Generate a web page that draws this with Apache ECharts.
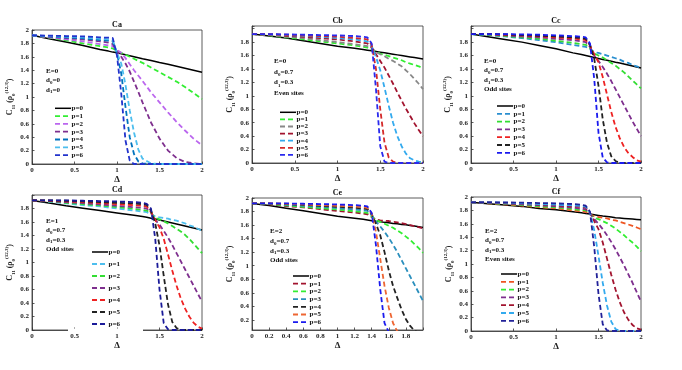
<!DOCTYPE html>
<html><head><meta charset="utf-8">
<script src="https://cdn.jsdelivr.net/npm/echarts@6/dist/echarts.min.js"></script>
<style>html,body{margin:0;padding:0;background:#fff}#c{width:682px;height:370px}</style>
</head><body><div id="c"></div><script>
// x grids (Δ)
const G1 = [0,0.2,0.4,0.6,0.8,0.9,0.95,1.0,1.05,1.1,1.15,1.2,1.25,1.3,1.4,1.5,1.6,1.7,1.8,1.9,2.0];
const G2 = [0,0.2,0.4,0.6,0.8,1.0,1.2,1.3,1.35,1.4,1.45,1.5,1.55,1.6,1.65,1.7,1.75,1.8,1.85,1.9,1.95,2.0];
const pNames = ['p=0','p=1','p=2','p=3','p=4','p=5','p=6'];

// Panel Ca (G1)
const caY = [
 [1.92,1.87,1.82,1.77,1.71,1.685,1.67,1.66,1.645,1.63,1.615,1.60,1.585,1.57,1.545,1.515,1.49,1.46,1.43,1.40,1.37],
 [1.92,1.885,1.845,1.80,1.76,1.74,1.725,1.69,1.66,1.63,1.60,1.57,1.54,1.51,1.44,1.37,1.30,1.23,1.15,1.06,0.97],
 [1.92,1.89,1.86,1.83,1.79,1.77,1.76,1.70,1.66,1.58,1.49,1.40,1.32,1.24,1.07,0.92,0.77,0.63,0.50,0.38,0.28],
 [1.92,1.90,1.88,1.86,1.83,1.81,1.79,1.68,1.60,1.50,1.38,1.23,1.08,0.92,0.62,0.38,0.20,0.09,0.03,0.01,0],
 [1.92,1.905,1.89,1.875,1.85,1.84,1.83,1.65,1.35,0.85,0.40,0.15,0.04,0.01,0,0,0,0,0,0,0],
 [1.92,1.91,1.90,1.89,1.87,1.86,1.85,1.66,1.50,1.18,0.80,0.47,0.22,0.08,0.01,0,0,0,0,0,0],
 [1.92,1.915,1.91,1.905,1.89,1.885,1.88,1.62,1.05,0.35,0.05,0,0,0,0,0,0,0,0,0,0]
];
// Panel Cb (G2)
const cbY = [
 [1.92,1.89,1.86,1.82,1.78,1.74,1.71,1.69,1.68,1.67,1.66,1.65,1.64,1.63,1.62,1.61,1.60,1.59,1.58,1.57,1.56,1.55],
 [1.92,1.90,1.87,1.84,1.81,1.78,1.75,1.73,1.72,1.69,1.66,1.63,1.61,1.59,1.57,1.55,1.53,1.50,1.48,1.46,1.44,1.41],
 [1.92,1.905,1.88,1.86,1.83,1.80,1.77,1.75,1.74,1.71,1.65,1.62,1.59,1.55,1.52,1.48,1.44,1.38,1.32,1.25,1.18,1.10],
 [1.92,1.91,1.895,1.88,1.86,1.84,1.81,1.79,1.78,1.72,1.62,1.52,1.42,1.30,1.18,1.05,0.93,0.81,0.70,0.59,0.49,0.40],
 [1.92,1.915,1.905,1.895,1.88,1.86,1.84,1.82,1.81,1.74,1.58,1.38,1.12,0.85,0.60,0.40,0.25,0.14,0.07,0.04,0.02,0.01],
 [1.92,1.92,1.91,1.90,1.89,1.88,1.86,1.85,1.84,1.76,1.40,0.80,0.30,0.08,0.02,0,0,0,0,0,0,0],
 [1.92,1.92,1.915,1.91,1.905,1.90,1.89,1.88,1.87,1.78,1.10,0.25,0.02,0,0,0,0,0,0,0,0,0]
];
// Panel Cc (G2)
const ccY = [
 [1.92,1.88,1.84,1.80,1.75,1.70,1.64,1.615,1.60,1.585,1.57,1.555,1.54,1.53,1.515,1.50,1.49,1.475,1.46,1.445,1.43,1.415],
 [1.92,1.905,1.885,1.86,1.83,1.80,1.76,1.74,1.73,1.70,1.65,1.64,1.62,1.60,1.58,1.56,1.54,1.51,1.49,1.46,1.44,1.41],
 [1.92,1.91,1.89,1.87,1.85,1.82,1.79,1.77,1.76,1.71,1.63,1.60,1.57,1.53,1.49,1.45,1.40,1.35,1.29,1.23,1.17,1.11],
 [1.92,1.915,1.90,1.885,1.87,1.85,1.83,1.81,1.80,1.73,1.60,1.52,1.43,1.33,1.22,1.10,0.98,0.86,0.74,0.62,0.51,0.40],
 [1.92,1.92,1.91,1.90,1.885,1.87,1.855,1.84,1.83,1.75,1.62,1.50,1.28,1.02,0.76,0.54,0.37,0.24,0.15,0.09,0.04,0.02],
 [1.92,1.92,1.915,1.905,1.895,1.885,1.87,1.86,1.85,1.76,1.55,1.15,0.65,0.30,0.10,0.03,0,0,0,0,0,0],
 [1.92,1.92,1.92,1.915,1.91,1.90,1.89,1.88,1.87,1.78,1.25,0.45,0.08,0.01,0,0,0,0,0,0,0,0]
];
// Panel Cd (G2)
const cdY = [
 [1.92,1.88,1.84,1.805,1.77,1.735,1.70,1.68,1.67,1.655,1.645,1.63,1.615,1.60,1.585,1.57,1.555,1.54,1.525,1.51,1.495,1.48],
 [1.92,1.90,1.875,1.85,1.83,1.80,1.77,1.755,1.745,1.72,1.68,1.67,1.66,1.65,1.63,1.62,1.60,1.58,1.55,1.53,1.50,1.47],
 [1.92,1.905,1.885,1.865,1.845,1.82,1.795,1.78,1.77,1.73,1.66,1.64,1.61,1.58,1.54,1.50,1.46,1.41,1.35,1.28,1.21,1.14],
 [1.92,1.91,1.895,1.88,1.86,1.84,1.82,1.81,1.80,1.74,1.63,1.56,1.47,1.37,1.26,1.14,1.02,0.90,0.78,0.66,0.54,0.42],
 [1.92,1.915,1.905,1.895,1.88,1.865,1.85,1.84,1.83,1.75,1.63,1.52,1.35,1.12,0.88,0.66,0.47,0.32,0.20,0.11,0.05,0.02],
 [1.92,1.92,1.915,1.905,1.895,1.885,1.875,1.865,1.855,1.77,1.58,1.25,0.80,0.38,0.12,0.03,0,0,0,0,0,0],
 [1.92,1.92,1.92,1.915,1.91,1.905,1.895,1.885,1.87,1.80,1.35,0.60,0.10,0.01,0,0,0,0,0,0,0,0]
];
// Panel Ce (G2)
const ceY = [
 [1.92,1.89,1.85,1.81,1.77,1.73,1.70,1.685,1.675,1.665,1.655,1.65,1.64,1.635,1.625,1.62,1.61,1.605,1.595,1.585,1.575,1.565],
 [1.92,1.905,1.88,1.86,1.835,1.81,1.785,1.77,1.76,1.72,1.68,1.67,1.665,1.66,1.65,1.64,1.63,1.615,1.60,1.585,1.57,1.55],
 [1.92,1.91,1.89,1.87,1.85,1.83,1.805,1.79,1.78,1.73,1.67,1.65,1.62,1.59,1.56,1.52,1.48,1.43,1.38,1.32,1.26,1.19],
 [1.92,1.915,1.90,1.885,1.87,1.85,1.83,1.82,1.81,1.745,1.65,1.58,1.50,1.41,1.31,1.20,1.08,0.96,0.84,0.72,0.60,0.48],
 [1.92,1.92,1.91,1.90,1.885,1.87,1.855,1.845,1.835,1.76,1.62,1.45,1.20,0.93,0.70,0.52,0.35,0.21,0.11,0.04,0.01,0],
 [1.92,1.92,1.915,1.905,1.895,1.885,1.875,1.865,1.855,1.77,1.50,1.10,0.70,0.38,0.15,0.03,0,0,0,0,0,0],
 [1.92,1.92,1.92,1.915,1.91,1.905,1.895,1.885,1.875,1.78,1.30,0.65,0.15,0.02,0,0,0,0,0,0,0,0]
];
// Panel Cf (G2)
const cfY = [
 [1.92,1.90,1.88,1.86,1.83,1.81,1.78,1.765,1.755,1.745,1.735,1.725,1.715,1.71,1.70,1.69,1.685,1.68,1.675,1.67,1.665,1.66],
 [1.92,1.905,1.89,1.87,1.85,1.83,1.80,1.785,1.78,1.74,1.71,1.70,1.69,1.68,1.66,1.65,1.63,1.61,1.59,1.57,1.545,1.52],
 [1.92,1.91,1.895,1.88,1.86,1.845,1.82,1.805,1.80,1.745,1.69,1.67,1.64,1.61,1.57,1.53,1.48,1.43,1.37,1.32,1.26,1.19],
 [1.92,1.915,1.90,1.89,1.875,1.86,1.84,1.825,1.815,1.75,1.67,1.60,1.52,1.43,1.33,1.22,1.10,0.98,0.85,0.72,0.58,0.44],
 [1.92,1.92,1.91,1.90,1.89,1.875,1.86,1.85,1.84,1.76,1.64,1.52,1.32,1.08,0.84,0.62,0.43,0.28,0.17,0.09,0.04,0.02],
 [1.92,1.92,1.915,1.905,1.895,1.885,1.875,1.865,1.855,1.77,1.50,1.12,0.72,0.38,0.14,0.03,0,0,0,0,0,0],
 [1.92,1.92,1.92,1.915,1.91,1.905,1.895,1.885,1.87,1.78,1.25,0.55,0.10,0.01,0,0,0,0,0,0,0,0]
];

// colours per panel (styles)
const caColors = ['#000000','#33ee33','#bb66ee','#7e2f8e','#0072bd','#4dbeee','#2233cc'];
const cbColors = ['#000000','#33ee33','#888888','#a2142f','#33aaee','#d42a2a','#2a2aee'];
const ccColors = ['#000000','#2a8fd0','#33dd33','#7e2f8e','#ee2222','#222222','#1a1aee'];
const cdColors = ['#000000','#4dbeee','#33dd33','#7e2f8e','#ee2222','#222222','#1a1a99'];
const ceColors = ['#000000','#a2142f','#33ee33','#2a8fbd','#222222','#ee6633','#1a1aee'];
const cfColors = ['#000000','#ee5522','#33ee33','#7e2f8e','#a2142f','#33aaee','#222299'];

const FONT = "'Liberation Serif','Times New Roman',serif";
const DASH = [5,3];

const panels = [
 {id:'Ca', x:G1, ys:caY, colors:caColors, grid:{left:32,top:30,width:170,height:134}, ymin:0, ymax:2, yhide:false,
  ann:'E=0\nd{s|0}=0\nd{s|1}=0', annPos:[46,66,9.5], leg:[55,108.3,7.8], yGap:14},
 {id:'Cb', x:G2, ys:cbY, colors:cbColors, grid:{left:252,top:26,width:171,height:137}, ymin:0, ymax:2.04, yhide:true,
  ann:'E=0\nd{s|0}=0.7\nd{s|1}=0.3\nEven sites', annPos:[274,56,10.6], leg:[280,112.3,7.1], yGap:16},
 {id:'Cc', x:G2, ys:ccY, colors:ccColors, grid:{left:471,top:26,width:170,height:137}, ymin:0, ymax:2.04, yhide:true,
  ann:'E=0\nd{s|0}=0.7\nd{s|1}=0.3\nOdd sites', annPos:[484,56,9.6], leg:[497,106,7.8], yGap:17},
 {id:'Cd', x:G2, ys:cdY, colors:cdColors, grid:{left:32,top:195,width:170,height:135}, ymin:0, ymax:2, yhide:true,
  ann:'E=1\nd{s|0}=0.7\nd{s|1}=0.3\nOdd sites', annPos:[46,216,9.5], leg:[92,252,12], yGap:16},
 {id:'Ce', x:G2, ys:ceY, colors:ceColors, grid:{left:252,top:198,width:171,height:132}, ymin:0.05, ymax:2, yhide:false,
  ann:'E=2\nd{s|0}=0.7\nd{s|1}=0.3\nOdd sites', annPos:[270,226,9.9], leg:[293,276,7.7], yGap:16, ceAxes:true},
 {id:'Cf', x:G2, ys:cfY, colors:cfColors, grid:{left:471,top:197,width:170,height:134}, ymin:0, ymax:2, yhide:false,
  ann:'E=2\nd{s|0}=0.7\nd{s|1}=0.3\nEven sites', annPos:[485,226,9.5], leg:[501,274,7.8], yGap:16}
];

const grids=[], xAxes=[], yAxes=[], series=[], graphics=[];
const axisLineStyle = {color:'#333', width:0.8};
const labelStyle = {fontFamily:FONT, fontSize:7, fontWeight:'bold', color:'#222'};

panels.forEach((p,i)=>{
  grids.push(Object.assign({show:true, borderColor:'#333', borderWidth:0.8, backgroundColor:'#fff'}, p.grid));
  xAxes.push({type:'value', gridIndex:i, min:0, max:2, interval:p.ceAxes?0.2:0.5,
    axisLine:{show:true, lineStyle:axisLineStyle}, axisTick:{show:true, inside:true, length:2.5, lineStyle:axisLineStyle},
    splitLine:{show:false},
    axisLabel:Object.assign({margin:3, formatter:(v)=> (p.ceAxes && v>1.9) ? '' : String(+v.toFixed(1))}, labelStyle),
    name:'Δ', nameLocation:'middle', nameGap:10,
    nameTextStyle:{fontFamily:FONT, fontSize:9, fontWeight:'bold', color:'#222'}});
  const ya = {type:'value', gridIndex:i, min:p.ymin, max:p.ymax,
    axisLine:{show:true, lineStyle:axisLineStyle}, axisTick:{show:true, inside:true, length:2.5, lineStyle:axisLineStyle},
    splitLine:{show:false},
    axisLabel:Object.assign({margin:3, formatter:(v)=> (p.yhide && v>1.9) ? '' : String(+v.toFixed(1))}, labelStyle),
    name:'C{s|11} (ρ{s|0}{u|(12,3)})', nameLocation:'middle', nameRotate:90, nameGap:p.yGap,
    nameTextStyle:{fontFamily:FONT, fontSize:8, fontWeight:'bold', color:'#222', lineHeight:12,
      rich:{s:{fontFamily:FONT, fontSize:5, fontWeight:'bold', verticalAlign:'bottom', lineHeight:12, color:'#222'},
            u:{fontFamily:FONT, fontSize:5, fontWeight:'bold', verticalAlign:'top', lineHeight:12, color:'#222'}}}};
  if (p.ceAxes) {
    ya.axisLabel.customValues = [0.2,0.4,0.6,0.8,1,1.2,1.4,1.6,1.8,2];
    ya.axisTick.customValues = [0.2,0.4,0.6,0.8,1,1.2,1.4,1.6,1.8,2];
  } else {
    ya.interval = 0.2;
  }
  yAxes.push(ya);
  p.ys.forEach((yv,k)=>{
    series.push({type:'line', name:p.id+' '+pNames[k], xAxisIndex:i, yAxisIndex:i, symbol:'none', showSymbol:false,
      clip:true, animation:false, silent:true,
      data:p.x.map((xv,j)=>[xv, yv[j]]),
      itemStyle:{color:p.colors[k]},
      lineStyle:{color:p.colors[k], width:k===0?1.5:1.8, type:k===0?'solid':DASH}});
    // legend entry
    const ly = p.leg[1] + k*p.leg[2];
    graphics.push({type:'line', z:30, shape:{x1:p.leg[0], y1:ly, x2:p.leg[0]+16, y2:ly},
      style:{stroke:p.colors[k], lineWidth:k===0?1.5:1.8, lineDash:k===0?null:DASH}});
    graphics.push({type:'text', z:30, x:p.leg[0]+16.5, y:ly,
      style:{text:pNames[k], fontFamily:FONT, fontSize:7, fontWeight:'bold', fill:'#111', align:'left', verticalAlign:'middle'}});
  });
  // title
  graphics.push({type:'text', x:p.grid.left+p.grid.width/2, y:p.grid.top-5,
    style:{text:p.id, fontFamily:FONT, fontSize:8, fontWeight:'bold', fill:'#111', align:'center', verticalAlign:'middle'}});
  // annotation
  graphics.push({type:'text', x:p.annPos[0], y:p.annPos[1], z:10,
    style:{text:p.ann, fontFamily:FONT, fontSize:7, fontWeight:'bold', fill:'#111', lineHeight:p.annPos[2],
      rich:{s:{fontFamily:FONT, fontSize:5, fontWeight:'bold', fill:'#111', verticalAlign:'bottom', lineHeight:p.annPos[2]}}}});
});
// white patch of the legend box over the Cd bottom axis
graphics.push({type:'rect', shape:{x:68, y:328.5, width:75, height:3}, style:{fill:'#fff'}, z:20});

const chart = echarts.init(document.getElementById('c'), null, {renderer:'canvas'});
chart.setOption({animation:false, backgroundColor:'#fff', grid:grids, xAxis:xAxes, yAxis:yAxes, series:series, graphic:graphics});
</script></body></html>
